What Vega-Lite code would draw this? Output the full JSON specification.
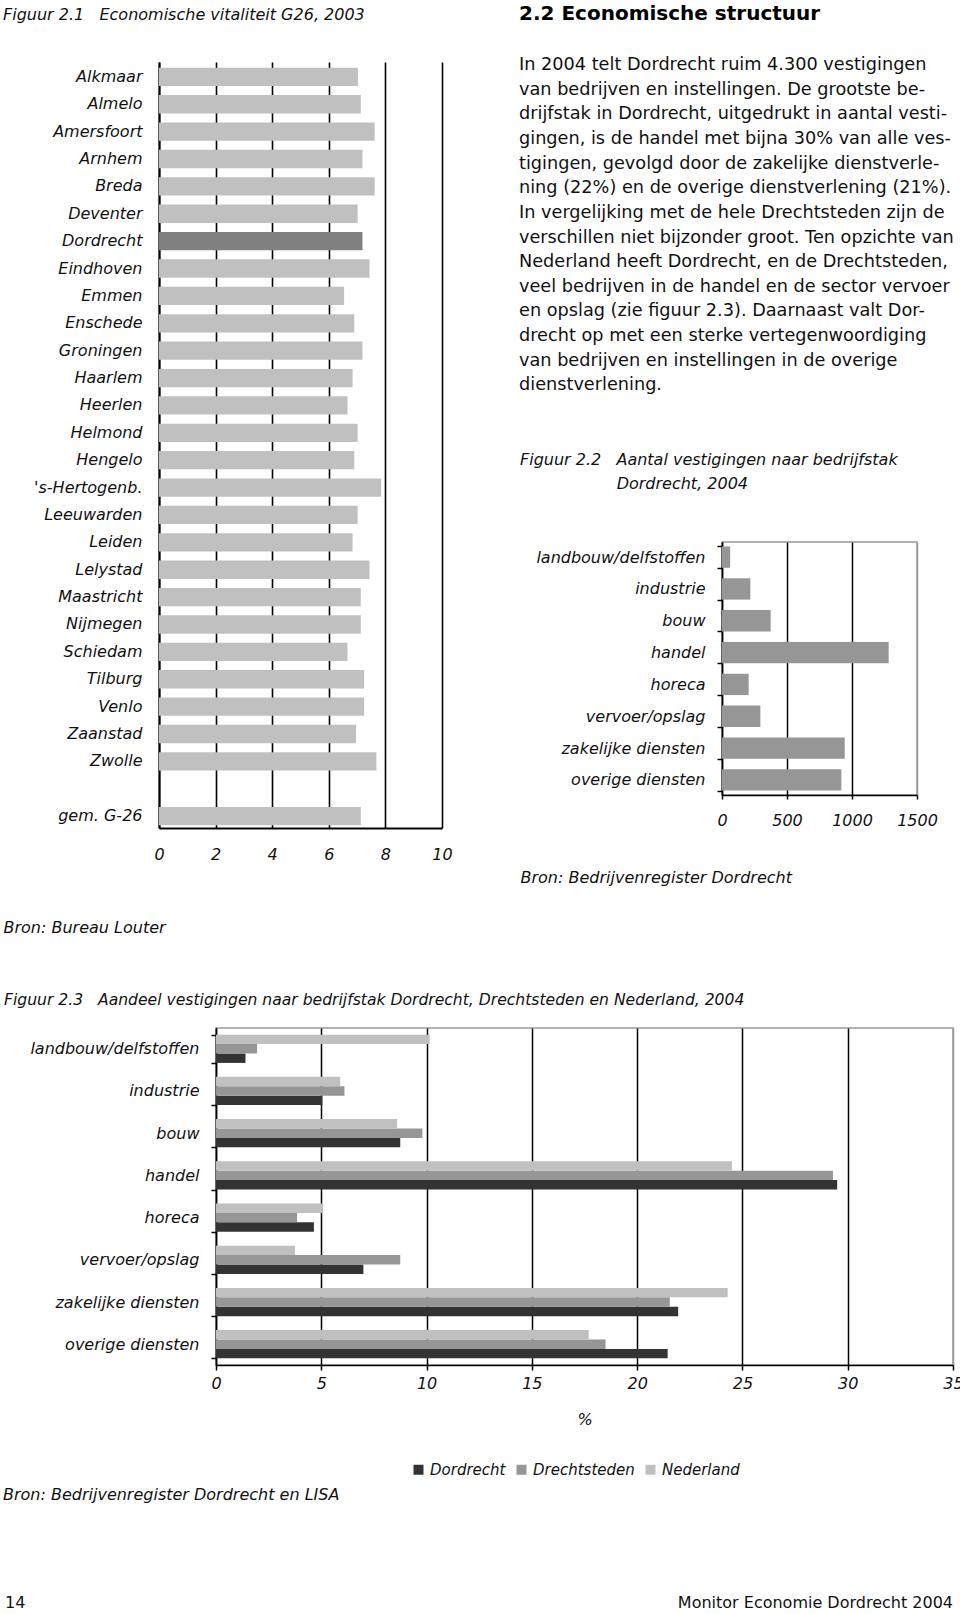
{
  "$schema": "https://vega.github.io/schema/vega-lite/v6.json",
  "padding": {"left": 0, "top": 4, "right": 0, "bottom": 0},
  "background": "white",
  "config": {
    "font": "DejaVu Sans",
    "view": {"stroke": null},
    "axis": {
      "labelFont": "DejaVu Sans", "labelFontStyle": "italic", "labelFontSize": 16, "labelColor": "#111",
      "titleFont": "DejaVu Sans", "titleFontStyle": "italic", "titleFontWeight": "normal", "titleFontSize": 16, "titleColor": "#111",
      "domainColor": "#000", "tickColor": "#000", "gridColor": "#000", "gridOpacity": 1, "labelFlush": false, "labelOverlap": false
    },
    "title": {"font": "DejaVu Sans", "fontStyle": "italic", "fontWeight": "normal", "fontSize": 16, "color": "#111", "anchor": "start", "frame": "group"},
    "legend": {"labelFont": "DejaVu Sans", "labelFontStyle": "italic", "labelFontSize": 15, "labelColor": "#111"}
  },
  "spacing": 57,
  "resolve": {"scale": {"color": "independent"}, "legend": {"color": "independent"}},
  "vconcat": [
    {
      "spacing": 2,
      "hconcat": [
        {"width": 1, "height": 1, "data": {"values": []}, "mark": "point"},
        {
          "spacing": 63,
          "hconcat": [
            {
              "width": 283,
              "height": 766,
              "title": {"text": "Figuur 2.1\u00a0\u00a0\u00a0Economische vitaliteit G26, 2003", "dx": -156, "offset": 39},
              "data": {"values": [
                {"gemeente": "Alkmaar", "score": 7.03},
                {"gemeente": "Almelo", "score": 7.13},
                {"gemeente": "Amersfoort", "score": 7.62},
                {"gemeente": "Arnhem", "score": 7.19},
                {"gemeente": "Breda", "score": 7.62},
                {"gemeente": "Deventer", "score": 7.02},
                {"gemeente": "Dordrecht", "score": 7.19},
                {"gemeente": "Eindhoven", "score": 7.44},
                {"gemeente": "Emmen", "score": 6.54},
                {"gemeente": "Enschede", "score": 6.9},
                {"gemeente": "Groningen", "score": 7.19},
                {"gemeente": "Haarlem", "score": 6.84},
                {"gemeente": "Heerlen", "score": 6.66},
                {"gemeente": "Helmond", "score": 7.02},
                {"gemeente": "Hengelo", "score": 6.9},
                {"gemeente": "'s-Hertogenb.", "score": 7.85},
                {"gemeente": "Leeuwarden", "score": 7.02},
                {"gemeente": "Leiden", "score": 6.84},
                {"gemeente": "Lelystad", "score": 7.44},
                {"gemeente": "Maastricht", "score": 7.13},
                {"gemeente": "Nijmegen", "score": 7.13},
                {"gemeente": "Schiedam", "score": 6.66},
                {"gemeente": "Tilburg", "score": 7.25},
                {"gemeente": "Venlo", "score": 7.25},
                {"gemeente": "Zaanstad", "score": 6.96},
                {"gemeente": "Zwolle", "score": 7.68},
                {"gemeente": "gem. G-26", "score": 7.13}
              ]},
              "mark": {"type": "bar"},
              "encoding": {
                "y": {
                  "field": "gemeente", "type": "nominal", "sort": null,
                  "scale": {"domain": ["Alkmaar", "Almelo", "Amersfoort", "Arnhem", "Breda", "Deventer", "Dordrecht", "Eindhoven", "Emmen", "Enschede", "Groningen", "Haarlem", "Heerlen", "Helmond", "Hengelo", "'s-Hertogenb.", "Leeuwarden", "Leiden", "Lelystad", "Maastricht", "Nijmegen", "Schiedam", "Tilburg", "Venlo", "Zaanstad", "Zwolle", " ", "gem. G-26"], "paddingInner": 0.331, "paddingOuter": 0.153, "align": 0.68},
                  "axis": {"title": null, "ticks": false, "labelPadding": 17, "domainWidth": 2}
                },
                "x": {
                  "field": "score", "type": "quantitative",
                  "scale": {"domain": [0, 10], "nice": false},
                  "axis": {"values": [0, 2, 4, 6, 8, 10], "grid": true, "gridWidth": 1.6, "ticks": false, "labelPadding": 18, "domainWidth": 2,
                    "title": "Bron: Bureau Louter", "titleAnchor": "start", "titleAlign": "left", "titleBaseline": "middle", "titleX": -156, "titleY": 99}
                },
                "color": {"condition": {"test": "datum.gemeente === 'Dordrecht'", "value": "#808080"}, "value": "#c0c0c0"}
              }
            },
            {
              "spacing": 57,
              "vconcat": [
                {
                  "spacing": 2,
                  "hconcat": [
                    {"width": 1, "height": 1, "data": {"values": []}, "mark": "point"},
                    {
                      "width": 440,
                      "height": 326.4,
                      "title": {"text": "2.2 Economische structuur", "fontStyle": "normal", "fontWeight": "bold", "fontSize": 20, "color": "#000", "offset": 32},
                      "data": {"values": [
                        {"regel": 1, "tekst": "In 2004 telt Dordrecht ruim 4.300 vestigingen"},
                        {"regel": 2, "tekst": "van bedrijven en instellingen. De grootste be-"},
                        {"regel": 3, "tekst": "drijfstak in Dordrecht, uitgedrukt in aantal vesti-"},
                        {"regel": 4, "tekst": "gingen, is de handel met bijna 30% van alle ves-"},
                        {"regel": 5, "tekst": "tigingen, gevolgd door de zakelijke dienstverle-"},
                        {"regel": 6, "tekst": "ning (22%) en de overige dienstverlening (21%)."},
                        {"regel": 7, "tekst": "In vergelijking met de hele Drechtsteden zijn de"},
                        {"regel": 8, "tekst": "verschillen niet bijzonder groot. Ten opzichte van"},
                        {"regel": 9, "tekst": "Nederland heeft Dordrecht, en de Drechtsteden,"},
                        {"regel": 10, "tekst": "veel bedrijven in de handel en de sector vervoer"},
                        {"regel": 11, "tekst": "en opslag (zie figuur 2.3). Daarnaast valt Dor-"},
                        {"regel": 12, "tekst": "drecht op met een sterke vertegenwoordiging"},
                        {"regel": 13, "tekst": "van bedrijven en instellingen in de overige"},
                        {"regel": 14, "tekst": "dienstverlening."}
                      ]},
                      "mark": {"type": "text", "align": "left", "baseline": "middle", "fontSize": 17.7, "font": "DejaVu Sans", "color": "#111", "x": 0},
                      "encoding": {
                        "y": {"field": "regel", "type": "ordinal", "scale": {"type": "point", "padding": 0.134}, "axis": null},
                        "text": {"field": "tekst"}
                      }
                    }
                  ]
                },
                {
                  "spacing": 2,
                  "hconcat": [
                    {"width": 1, "height": 1, "data": {"values": []}, "mark": "point"},
                    {
                      "width": 195,
                      "height": 253,
                      "view": {"stroke": "#999", "strokeWidth": 1.5},
                      "title": {"text": ["Figuur 2.2\u00a0\u00a0\u00a0Aantal vestigingen naar bedrijfstak", "\u200b\u00a0\u00a0\u00a0\u00a0\u00a0\u00a0\u00a0\u00a0\u00a0\u00a0\u00a0\u00a0\u00a0\u00a0\u00a0\u00a0\u00a0\u00a0\u00a0Dordrecht, 2004"], "dx": -202, "offset": 42, "lineHeight": 24},
                      "data": {"values": [
                        {"bedrijfstak": "landbouw/delfstoffen", "aantal": 63},
                        {"bedrijfstak": "industrie", "aantal": 218},
                        {"bedrijfstak": "bouw", "aantal": 374},
                        {"bedrijfstak": "handel", "aantal": 1282},
                        {"bedrijfstak": "horeca", "aantal": 205},
                        {"bedrijfstak": "vervoer/opslag", "aantal": 295},
                        {"bedrijfstak": "zakelijke diensten", "aantal": 944},
                        {"bedrijfstak": "overige diensten", "aantal": 918}
                      ]},
                      "mark": {"type": "bar", "color": "#969696"},
                      "encoding": {
                        "y": {
                          "field": "bedrijfstak", "type": "nominal", "sort": null,
                          "scale": {"paddingInner": 0.33, "paddingOuter": 0.14},
                          "axis": {"title": null, "tickBand": "extent", "tickSize": 5, "labelPadding": 12, "domainWidth": 1.5, "tickWidth": 1.5}
                        },
                        "x": {
                          "field": "aantal", "type": "quantitative",
                          "scale": {"domain": [0, 1500], "nice": false},
                          "axis": {"values": [0, 500, 1000, 1500], "format": "d", "grid": true, "gridWidth": 1.5,
                            "gridColor": {"condition": {"test": "datum.value >= 1500", "value": "#999999"}, "value": "#000000"},
                            "tickSize": 4, "tickWidth": 1.5, "labelPadding": 13, "domainWidth": 1.5,
                            "title": "Bron: Bedrijvenregister Dordrecht", "titleAnchor": "start", "titleAlign": "left", "titleBaseline": "middle", "titleX": -202, "titleY": 82}
                        }
                      }
                    }
                  ]
                }
              ]
            }
          ]
        }
      ]
    },
    {
      "spacing": 8,
      "resolve": {"scale": {"color": "independent"}, "legend": {"color": "independent"}},
      "vconcat": [
        {
          "spacing": 2,
          "resolve": {"scale": {"color": "independent"}, "legend": {"color": "independent"}},
          "hconcat": [
            {"width": 1, "height": 1, "data": {"values": []}, "mark": "point"},
            {
              "width": 737,
              "height": 337,
              "view": {"stroke": "#999", "strokeWidth": 1.5},
              "title": {"text": "Figuur 2.3\u00a0\u00a0\u00a0Aandeel vestigingen naar bedrijfstak Dordrecht, Drechtsteden en Nederland, 2004", "fontSize": 15.6, "dx": -212, "offset": 11},
              "data": {"values": [
                {"bedrijfstak": "landbouw/delfstoffen", "gebied": "Dordrecht", "pct": 1.4},
                {"bedrijfstak": "landbouw/delfstoffen", "gebied": "Drechtsteden", "pct": 1.95},
                {"bedrijfstak": "landbouw/delfstoffen", "gebied": "Nederland", "pct": 10.15},
                {"bedrijfstak": "industrie", "gebied": "Dordrecht", "pct": 5.05},
                {"bedrijfstak": "industrie", "gebied": "Drechtsteden", "pct": 6.1},
                {"bedrijfstak": "industrie", "gebied": "Nederland", "pct": 5.9},
                {"bedrijfstak": "bouw", "gebied": "Dordrecht", "pct": 8.75},
                {"bedrijfstak": "bouw", "gebied": "Drechtsteden", "pct": 9.8},
                {"bedrijfstak": "bouw", "gebied": "Nederland", "pct": 8.6},
                {"bedrijfstak": "handel", "gebied": "Dordrecht", "pct": 29.5},
                {"bedrijfstak": "handel", "gebied": "Drechtsteden", "pct": 29.3},
                {"bedrijfstak": "handel", "gebied": "Nederland", "pct": 24.5},
                {"bedrijfstak": "horeca", "gebied": "Dordrecht", "pct": 4.65},
                {"bedrijfstak": "horeca", "gebied": "Drechtsteden", "pct": 3.85},
                {"bedrijfstak": "horeca", "gebied": "Nederland", "pct": 5.05},
                {"bedrijfstak": "vervoer/opslag", "gebied": "Dordrecht", "pct": 7.0},
                {"bedrijfstak": "vervoer/opslag", "gebied": "Drechtsteden", "pct": 8.75},
                {"bedrijfstak": "vervoer/opslag", "gebied": "Nederland", "pct": 3.75},
                {"bedrijfstak": "zakelijke diensten", "gebied": "Dordrecht", "pct": 21.95},
                {"bedrijfstak": "zakelijke diensten", "gebied": "Drechtsteden", "pct": 21.55},
                {"bedrijfstak": "zakelijke diensten", "gebied": "Nederland", "pct": 24.3},
                {"bedrijfstak": "overige diensten", "gebied": "Dordrecht", "pct": 21.45},
                {"bedrijfstak": "overige diensten", "gebied": "Drechtsteden", "pct": 18.5},
                {"bedrijfstak": "overige diensten", "gebied": "Nederland", "pct": 17.7}
              ]},
              "mark": {"type": "bar"},
              "encoding": {
                "y": {
                  "field": "bedrijfstak", "type": "nominal", "sort": null,
                  "scale": {"paddingInner": 0.33, "paddingOuter": 0.157},
                  "axis": {"title": null, "tickBand": "extent", "tickSize": 5, "tickWidth": 1.5, "labelPadding": 12, "domainWidth": 1.5}
                },
                "yOffset": {"field": "gebied", "type": "nominal", "scale": {"domain": ["Nederland", "Drechtsteden", "Dordrecht"], "paddingInner": 0, "paddingOuter": 0}},
                "x": {
                  "field": "pct", "type": "quantitative",
                  "scale": {"domain": [0, 35], "nice": false},
                  "axis": {"values": [0, 5, 10, 15, 20, 25, 30, 35], "grid": true, "gridWidth": 1.5,
                    "gridColor": {"condition": {"test": "datum.value >= 35", "value": "#999999"}, "value": "#000000"},
                    "tickSize": 5, "tickWidth": 1.5, "labelPadding": 5, "domainWidth": 1.5,
                    "title": "%", "titlePadding": 20}
                },
                "color": {
                  "field": "gebied", "type": "nominal",
                  "scale": {"domain": ["Dordrecht", "Drechtsteden", "Nederland"], "range": ["#333333", "#969696", "#c0c0c0"]},
                  "legend": {"title": null, "orient": "none", "legendX": 195, "legendY": 434, "direction": "horizontal", "symbolType": "square", "symbolSize": 100, "symbolStrokeWidth": 0, "symbolOpacity": 1, "labelOffset": 4, "columnPadding": 8}
                }
              }
            }
          ]
        },
        {
          "spacing": 2,
          "hconcat": [
            {"width": 1, "height": 1, "data": {"values": []}, "mark": "point"},
            {
              "width": 950,
              "height": 97,
              "title": {"text": "Bron: Bedrijvenregister Dordrecht en LISA", "offset": 8},
              "layer": [
                {
                  "data": {"values": [{"tekst": "14"}]},
                  "mark": {"type": "text", "align": "left", "baseline": "alphabetic", "fontSize": 16, "font": "DejaVu Sans", "color": "#111", "x": 2, "y": "height"},
                  "encoding": {"text": {"field": "tekst"}}
                },
                {
                  "data": {"values": [{"tekst": "Monitor Economie Dordrecht 2004"}]},
                  "mark": {"type": "text", "align": "right", "baseline": "alphabetic", "fontSize": 16, "font": "DejaVu Sans", "color": "#111", "x": "width", "y": "height"},
                  "encoding": {"text": {"field": "tekst"}}
                }
              ]
            }
          ]
        }
      ]
    }
  ]
}
